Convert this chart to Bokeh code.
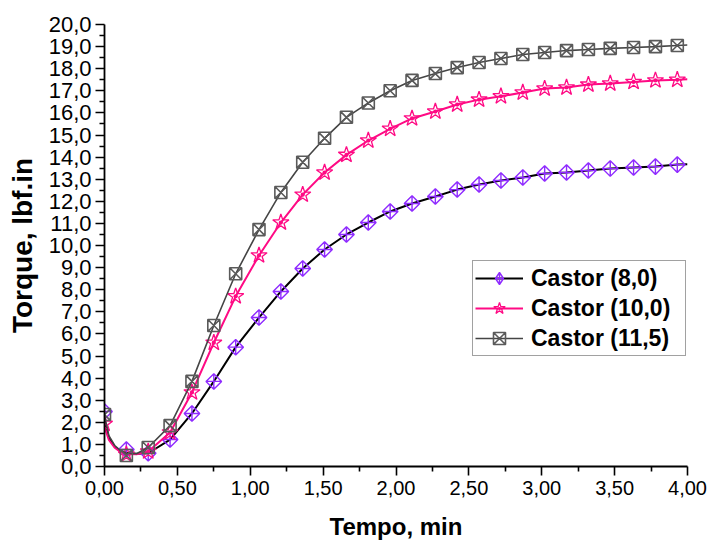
import math
from bokeh.plotting import figure
from bokeh.models import FixedTicker, Legend, LegendItem, Range1d
from bokeh.embed import file_html
from bokeh.resources import INLINE

# ---------------- data ----------------
series_names = ["Castor (8,0)", "Castor (10,0)", "Castor (11,5)"]

# times of the plotted symbols (min)
t_markers = [0.00, 0.15, 0.30, 0.45, 0.60, 0.75, 0.90, 1.06, 1.21, 1.36, 1.51,
             1.66, 1.81, 1.96, 2.11, 2.27, 2.42, 2.57, 2.72, 2.87, 3.02, 3.17,
             3.32, 3.47, 3.63, 3.78, 3.93]

castor_8_0 = [2.49, 0.77, 0.60, 1.22, 2.40, 3.85, 5.40, 6.74, 7.92, 8.96, 9.82,
              10.50, 11.04, 11.54, 11.90, 12.22, 12.53, 12.76, 12.94, 13.08, 13.26,
              13.30, 13.39, 13.48, 13.53, 13.57, 13.66]
castor_10_0 = [1.93, 0.54, 0.68, 1.54, 3.35, 5.60, 7.70, 9.55, 11.04, 12.30, 13.30,
               14.10, 14.75, 15.28, 15.75, 16.06, 16.38, 16.60, 16.75, 16.92, 17.10,
               17.15, 17.28, 17.33, 17.40, 17.47, 17.50]
castor_11_5 = [2.35, 0.50, 0.86, 1.85, 3.85, 6.38, 8.72, 10.72, 12.40, 13.77, 14.85,
               15.80, 16.45, 17.00, 17.47, 17.78, 18.05, 18.28, 18.46, 18.64, 18.73,
               18.82, 18.87, 18.92, 18.96, 19.00, 19.05]

# extra curve points (line only): initial drop and final point
t_early = [0.00, 0.03, 0.07, 0.11, 0.15, 0.22]
castor_8_0_early = [2.10, 1.30, 0.90, 0.70, 0.62, 0.58]
castor_10_0_early = [1.80, 1.20, 0.85, 0.66, 0.56, 0.55]
castor_11_5_early = [2.30, 1.40, 0.95, 0.72, 0.60, 0.58]
t_end = 4.00
castor_8_0_end = 13.68
castor_10_0_end = 17.52
castor_11_5_end = 19.07

x_ticks = [0.0, 0.5, 1.0, 1.5, 2.0, 2.5, 3.0, 3.5, 4.0]
x_tick_labels = ["0,00", "0,50", "1,00", "1,50", "2,00", "2,50", "3,00", "3,50", "4,00"]
x_minor = [0.25, 0.75, 1.25, 1.75, 2.25, 2.75, 3.25, 3.75]
y_ticks = [float(v) for v in range(0, 21)]
y_tick_labels = ["0,0", "1,0", "2,0", "3,0", "4,0", "5,0", "6,0", "7,0", "8,0", "9,0",
                 "10,0", "11,0", "12,0", "13,0", "14,0", "15,0", "16,0", "17,0",
                 "18,0", "19,0", "20,0"]
y_minor = [v + 0.5 for v in range(0, 20)]

FONT = "Liberation Sans"

p = figure(width=709, height=542, output_backend="svg", toolbar_location=None,
           x_range=Range1d(0, 4), y_range=Range1d(0, 20),
           min_border_left=104, min_border_right=22, min_border_top=24,
           min_border_bottom=76)
p.outline_line_color = None
p.xgrid.visible = False
p.ygrid.visible = False
p.background_fill_color = "white"
p.border_fill_color = "white"

for ax, ticks, labels, minor in ((p.xaxis[0], x_ticks, x_tick_labels, x_minor),
                                 (p.yaxis[0], y_ticks, y_tick_labels, y_minor)):
    ax.ticker = FixedTicker(ticks=ticks, minor_ticks=minor)
    ax.major_label_overrides = {t: l for t, l in zip(ticks, labels)}
    ax.axis_line_width = 1.8
    ax.axis_line_color = "black"
    ax.major_tick_line_width = 1.6
    ax.minor_tick_line_width = 1.6
    ax.major_tick_in = 0
    ax.major_tick_out = 9
    ax.minor_tick_in = 0
    ax.minor_tick_out = 5
    ax.major_label_text_font = FONT
    ax.major_label_text_color = "black"
    ax.axis_label_text_font = FONT
    ax.axis_label_text_font_style = "bold"
    ax.axis_label_text_color = "black"

p.xaxis.major_label_text_font_size = "20px"
p.xaxis.axis_label = "Tempo, min"
p.xaxis.axis_label_text_font_size = "24px"
p.xaxis.major_label_standoff = 5
p.xaxis.axis_label_standoff = 15
p.yaxis.major_label_text_font_size = "22px"
p.yaxis.axis_label = "Torque, lbf.in"
p.yaxis.axis_label_text_font_size = "28px"
p.yaxis.major_label_standoff = 4
p.yaxis.axis_label_standoff = 8

line_colors = ["black", "#ff0a84", "#454545"]
line_widths = [2.0, 2.0, 1.6]
marker_colors = ["#8f2bff", "#ff0a84", "#5a5a5a"]

series = [
    (castor_8_0, castor_8_0_early, castor_8_0_end),
    (castor_10_0, castor_10_0_early, castor_10_0_end),
    (castor_11_5, castor_11_5_early, castor_11_5_end),
]

items = []
for k, (vals, early, end) in enumerate(series):
    lt = t_early + t_markers[2:] + [t_end]
    lv = early + vals[2:] + [end]
    lr = p.line(lt, lv, line_color=line_colors[k], line_width=line_widths[k])
    if k == 0:
        sr = p.scatter(t_markers, vals, marker="square_x", size=11, angle=math.pi / 4,
                       fill_color=None, line_color=marker_colors[k], line_width=1.4)
        # legend-only symbol (legend markers are drawn unrotated)
        leg = p.scatter(t_markers, vals, marker="diamond_cross", size=12,
                        fill_color=None, line_color=marker_colors[k], line_width=1.4,
                        visible=False)
        rens = [lr, leg]
    elif k == 1:
        sr = p.scatter(t_markers, vals, marker="star_dot", size=17,
                       fill_color=None, line_color=marker_colors[k], line_width=1.3)
        rens = [lr, sr]
    else:
        sr = p.scatter(t_markers, vals, marker="square_x", size=12,
                       fill_color=None, line_color=marker_colors[k], line_width=1.6)
        rens = [lr, sr]
    items.append(LegendItem(label=series_names[k], renderers=rens))

legend = Legend(items=items, location=(368, 110))
legend.border_line_color = "#444444"
legend.border_line_width = 1.5
legend.background_fill_color = "white"
legend.background_fill_alpha = 1.0
legend.label_text_font = FONT
legend.label_text_font_style = "bold"
legend.label_text_font_size = "23px"
legend.label_text_color = "black"
legend.glyph_width = 48
legend.glyph_height = 30
legend.label_height = 30
legend.label_width = 152
legend.label_standoff = 8
legend.spacing = 0
legend.padding = 2
legend.margin = 0
p.add_layout(legend, "center")

open("out.html", "w").write(file_html(p, INLINE))
